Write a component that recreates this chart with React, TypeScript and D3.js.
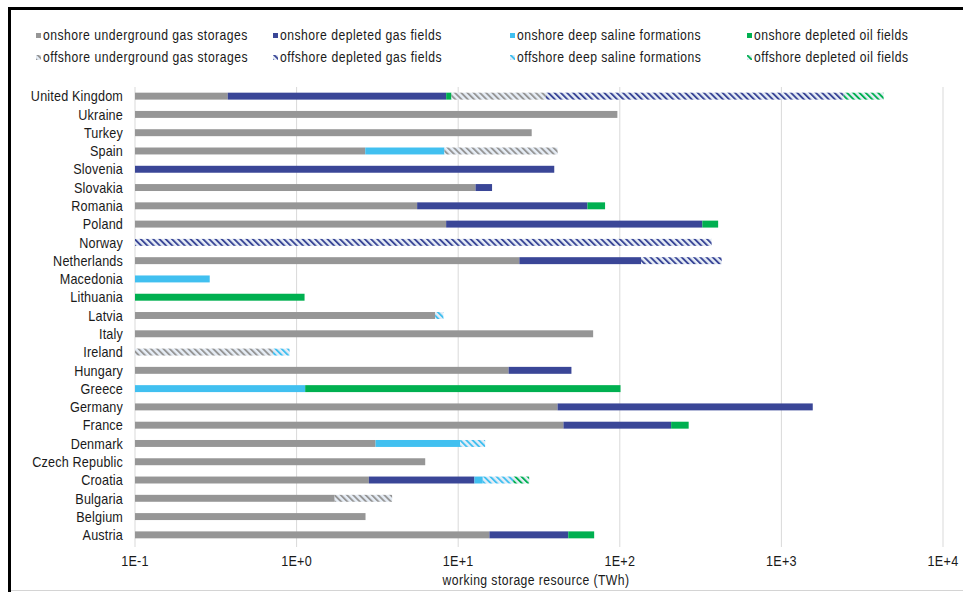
import React from 'react';
import * as d3 from 'd3';

const countries = [
  'United Kingdom', 'Ukraine', 'Turkey', 'Spain', 'Slovenia', 'Slovakia', 'Romania', 'Poland',
  'Norway', 'Netherlands', 'Macedonia', 'Lithuania', 'Latvia', 'Italy', 'Ireland', 'Hungary',
  'Greece', 'Germany', 'France', 'Denmark', 'Czech Republic', 'Croatia', 'Bulgaria', 'Belgium', 'Austria',
];

const seriesNames = [
  'onshore underground gas storages',
  'onshore depleted gas fields',
  'onshore deep saline formations',
  'onshore depleted oil fields',
  'offshore underground gas storages',
  'offshore depleted gas fields',
  'offshore deep saline formations',
  'offshore depleted oil fields',
];

// values in TWh, per country (same order as countries)
const onshoreUGS = [0.375, 96.6, 28.5, 2.66, 0, 12.8, 5.57, 8.42, 0, 23.9, 0, 0, 7.2, 68.4, 0, 20.5, 0, 41.2, 44.8, 3.08, 6.25, 2.8, 1.72, 2.67, 15.6];
const onshoreDGF = [8.05, 0, 0, 0, 39.3, 3.4, 57.5, 315.6, 0, 111.6, 0, 0, 0, 0, 0, 29.7, 0, 1522, 163, 0, 0, 9.8, 0, 0, 32.4];
const onshoreDSF = [0, 0, 0, 5.56, 0, 0, 0, 0, 0, 0, 0.29, 0, 0, 0, 0, 0, 1.13, 0, 0, 7.2, 0, 1.6, 0, 0, 0];
const onshoreDOF = [0.66, 0, 0, 0, 0, 0, 18.0, 82, 0, 0, 0, 1.12, 0, 0, 0, 0, 99.9, 0, 59, 0, 0, 0, 0, 0, 21.4];
const offshoreUGS = [25.8, 0, 0, 33.0, 0, 0, 0, 0, 0, 0, 0, 0, 0, 0, 0.715, 0, 0, 0, 0, 0, 0, 0, 2.18, 0, 0];
const offshoreDGF = [2393, 0, 0, 0, 0, 0, 0, 0, 370, 291.5, 0, 0, 0, 0, 0, 0, 0, 0, 0, 0, 0, 0, 0, 0, 0];
const offshoreDSF = [0, 0, 0, 0, 0, 0, 0, 0, 0, 0, 0, 0, 0.9, 0, 0.19, 0, 0, 0, 0, 4.4, 0, 7.7, 0, 0, 0];
const offshoreDOF = [1862, 0, 0, 0, 0, 0, 0, 0, 0, 0, 0, 0, 0, 0, 0, 0, 0, 0, 0, 0, 0, 5.6, 0, 0, 0];

const seriesValues = [onshoreUGS, onshoreDGF, onshoreDSF, onshoreDOF, offshoreUGS, offshoreDGF, offshoreDSF, offshoreDOF];

const tickValues = [0.1, 1, 10, 100, 1000, 10000];
const tickLabels = ['1E-1', '1E+0', '1E+1', '1E+2', '1E+3', '1E+4'];
const axisTitle = 'working storage resource (TWh)';

const baseColors = ['#969696', '#3A4697', '#41C0F0', '#00B050'];
const hatchBg = '#E6EDF6';

const W = 963;
const H = 592;
const plotLeft = 135;
const plotRight = 943;
const plotTop = 87;
const plotBottom = 544;

const FONT = '"Liberation Sans", Arial, sans-serif';
const SX = 0.87;

function NText(props: { x: number; y: number; anchor?: string; size: number; ls: number; dy?: string; children: React.ReactNode }) {
  const { x, y, anchor = 'start', size, ls, dy, children } = props;
  return (
    <text
      transform={`translate(${x},${y}) scale(${SX},1)`}
      textAnchor={anchor}
      fontSize={size}
      letterSpacing={ls}
      dy={dy}
      fill="#1a1a1a"
    >
      {children}
    </text>
  );
}

export default function App() {
  const x = d3.scaleLog().domain([0.1, 10000]).range([plotLeft, plotRight]).clamp(true);
  const y = d3.scaleBand<string>().domain(countries).range([plotTop, plotBottom]).paddingInner(0.62).paddingOuter(0.31);

  const keys = seriesNames;
  const table = countries.map((c, ci) => {
    const row: any = { country: c };
    keys.forEach((k, si) => { row[k] = seriesValues[si][ci]; });
    return row;
  });
  const stacked = d3.stack<any>().keys(keys)(table);

  const fillFor = (si: number) => (si < 4 ? baseColors[si] : `url(#hatch-${si - 4})`);

  return (
    <svg width={W} height={H} style={{ position: 'fixed', left: 0, top: 0, background: '#fff' }} fontFamily={FONT}>
      <defs>
        {baseColors.map((c, i) => (
          <pattern key={i} id={`hatch-${i}`} patternUnits="userSpaceOnUse" width={4.4} height={4.4} patternTransform="rotate(-45)">
            <rect x={0} y={0} width={4.4} height={4.4} fill={hatchBg} />
            <rect x={0} y={0} width={1.9} height={4.4} fill={c} />
          </pattern>
        ))}
      </defs>
      <rect x={0} y={0} width={W} height={H} fill="#fff" />
      {/* frame */}
      <line x1={8} x2={W} y1={8.5} y2={8.5} stroke="#000" strokeWidth={3} />
      <line x1={9.5} x2={9.5} y1={7} y2={H} stroke="#000" strokeWidth={3} />
      <line x1={11} x2={W} y1={590.5} y2={590.5} stroke="#D4D4D4" strokeWidth={1} />

      {/* legend */}
      {seriesNames.map((name, si) => {
        const col = si % 4;
        const row = Math.floor(si / 4);
        const lx = 36 + col * 237;
        const ly = 40 + row * 22;
        return (
          <g key={name}>
            <rect x={lx} y={ly - 7} width={5} height={5} fill={fillFor(si)} />
            <NText x={lx + 7} y={ly} size={14} ls={0.55}>{name}</NText>
          </g>
        );
      })}

      {/* gridlines */}
      {tickValues.map((t) => (
        <line key={t} x1={x(t)} x2={x(t)} y1={plotTop} y2={plotBottom + 3} stroke="#D9D9D9" strokeWidth={1} />
      ))}

      {/* bars */}
      {stacked.map((layer, si) => (
        <g key={layer.key}>
          {layer.map((d, ci) => {
            if (d[1] - d[0] <= 0) return null;
            const x0 = x(Math.max(d[0], 0.1));
            const x1 = x(d[1]);
            return (
              <rect key={ci} x={x0} y={y(countries[ci])} width={Math.max(0, x1 - x0)} height={y.bandwidth()} fill={fillFor(si)} />
            );
          })}
        </g>
      ))}

      {/* category labels */}
      {countries.map((c) => (
        <NText key={c} x={123} y={(y(c) as number) + y.bandwidth() / 2} dy="0.36em" anchor="end" size={14.5} ls={0.2}>{c}</NText>
      ))}

      {/* tick labels */}
      {tickValues.map((t, i) => (
        <NText key={t} x={x(t)} y={566} anchor="middle" size={14.5} ls={0.3}>{tickLabels[i]}</NText>
      ))}
      <NText x={(plotLeft + plotRight) / 2 - 3} y={585} anchor="middle" size={14} ls={0.5}>{axisTitle}</NText>
    </svg>
  );
}
